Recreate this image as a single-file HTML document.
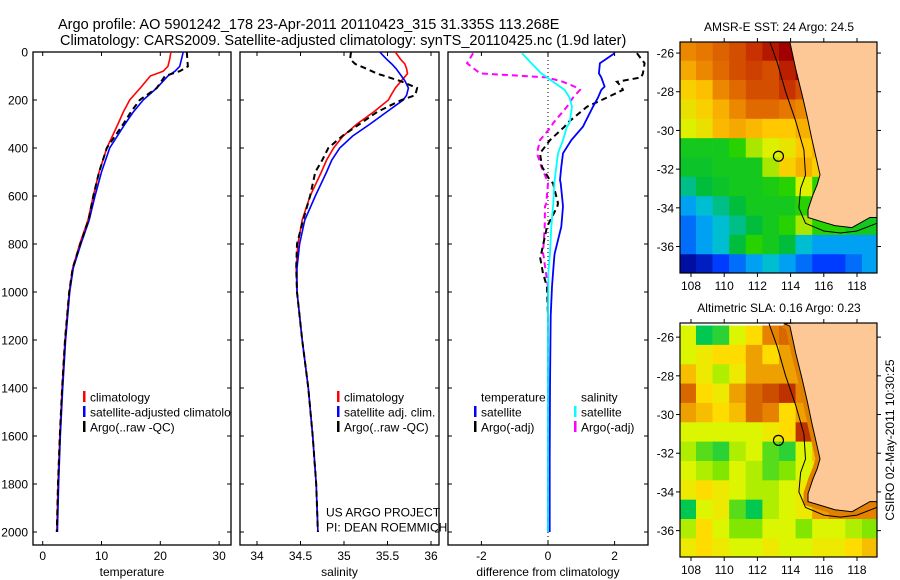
<!DOCTYPE html>
<html><head><meta charset="utf-8"><style>
body{margin:0;background:#fff;}
svg{display:block;font-family:"Liberation Sans",sans-serif;}
</style></head><body>
<svg id="fig" width="900" height="580" viewBox="0 0 900 580">
<text x="58" y="29" font-size="14.5">Argo profile: AO 5901242_178 23-Apr-2011 20110423_315 31.335S 113.268E</text>
<text x="60" y="45" font-size="14.5">Climatology: CARS2009. Satellite-adjusted climatology: synTS_20110425.nc (1.9d later)</text>
<g id="plots"></g>
</svg>
<script>
// ---------- profile data ----------
const tDepth = [0,30,60,80,100,150,200,250,300,400,500,600,700,800,900,1000,1200,1400,1600,1800,2000];
const tClim  = [21.8,21.6,21.3,20.5,18.3,16.6,14.8,13.7,12.8,10.9,9.6,8.6,7.7,6.3,5.1,4.5,3.8,3.3,2.9,2.6,2.4];
const tSat   = [23.9,23.6,23.3,22.5,21.3,19.4,17.1,15.4,14.0,11.4,10.0,8.9,7.9,6.5,5.2,4.6,3.9,3.4,3.0,2.7,2.5];
const tArgo  = [24.5,24.6,24.7,23.3,20.8,19.4,16.5,15.0,13.7,10.9,9.6,8.6,7.8,6.4,5.1,4.5,3.8,3.3,2.9,2.6,2.4];
const sDepth = [0,30,50,70,90,120,150,180,200,250,300,350,400,450,500,600,700,800,900,1000,1200,1400,1600,1800,2000];
const sClim  = [35.59,35.65,35.70,35.72,35.73,35.66,35.59,35.54,35.51,35.34,35.15,34.99,34.88,34.80,34.74,34.61,34.52,34.47,34.45,34.46,34.52,34.59,34.64,34.68,34.70];
const sSat   = [35.41,35.49,35.55,35.60,35.64,35.70,35.74,35.72,35.68,35.49,35.30,35.10,34.95,34.86,34.80,34.67,34.55,34.49,34.46,34.46,34.52,34.59,34.64,34.68,34.70];
const sArgo  = [35.08,35.07,35.13,35.26,35.38,35.64,35.84,35.82,35.66,35.38,35.18,34.98,34.82,34.75,34.67,34.61,34.53,34.46,34.45,34.46,34.52,34.59,34.64,34.68,34.70];
const dDepth = [5,47,89,106,124,144,158,190,228,297,311,367,422,478,533,547,630,644,728,839,853,922,978,1100,1400,1700,2000];
const dTSat  = [2.0,1.56,1.53,1.6,1.65,1.7,1.6,1.5,1.35,1.1,1.05,0.7,0.45,0.4,0.36,0.38,0.44,0.45,0.4,0.2,0.19,0.15,0.12,0.08,0.06,0.05,0.05];
const dTArgo = [2.67,2.9,2.85,2.8,2.07,2.2,2.25,1.77,1.17,0.57,0.5,0.06,-0.24,-0.18,0.05,0.15,0.3,0.28,-0.03,-0.2,-0.24,-0.15,-0.03,0.0,0.0,0.0,0.0];
const dSSat  = [-0.78,-0.5,-0.2,-0.03,0.15,0.36,0.5,0.65,0.72,0.65,0.57,0.45,0.3,0.25,0.2,0.19,0.16,0.15,0.1,0.06,0.05,0.01,0.01,0.0,0.0,0.0,0.0];
const dSArgo = [-2.25,-2.43,-2.04,-0.03,0.45,0.8,0.96,0.75,0.57,0.15,0.1,-0.24,-0.33,-0.2,-0.03,0.0,-0.05,-0.09,-0.1,-0.15,-0.13,-0.06,0.0,0.0,0.0,0.0,0.0];
const depthTicks = [0,200,400,600,800,1000,1200,1400,1600,1800,2000];
const tTicks = [0,10,20,30];
const sTicks = [34,34.5,35,35.5,36];
const sTickLabels = ["34","34.5","35","35.5","36"];
const dTicks = [-2,0,2];
// ---------- map data ----------
const sstGrid = [
[0.80,0.82,0.85,0.88,0.92,0.96,1.00,1.00,1.00,0.9,0.9,0.9],
[0.76,0.80,0.84,0.88,0.90,0.88,0.95,1.00,0.95,0.9,0.9,0.9],
[0.70,0.73,0.80,0.84,0.88,0.88,0.92,0.88,0.85,0.9,0.9,0.9],
[0.66,0.70,0.75,0.80,0.84,0.84,0.82,0.80,0.80,0.8,0.8,0.8],
[0.62,0.66,0.74,0.76,0.74,0.72,0.72,0.75,0.78,0.8,0.8,0.8],
[0.50,0.50,0.50,0.55,0.60,0.62,0.65,0.72,0.75,0.7,0.7,0.7],
[0.48,0.48,0.50,0.50,0.50,0.60,0.70,0.75,0.70,0.62,0.6,0.6],
[0.40,0.45,0.48,0.50,0.50,0.52,0.55,0.62,0.55,0.6,0.6,0.6],
[0.30,0.35,0.40,0.45,0.50,0.50,0.50,0.55,0.60,0.55,0.55,0.55],
[0.25,0.30,0.35,0.40,0.45,0.50,0.55,0.60,0.55,0.55,0.50,0.50],
[0.25,0.30,0.35,0.45,0.55,0.50,0.45,0.35,0.30,0.30,0.30,0.30],
[0.05,0.10,0.20,0.25,0.30,0.35,0.30,0.25,0.20,0.20,0.25,0.30]];
const slaGrid = [
[0.50,0.25,0.30,0.50,0.60,0.75,0.80,0.80,0.8,0.8,0.8,0.8],
[0.50,0.55,0.60,0.60,0.70,0.60,0.70,0.75,0.75,0.8,0.8,0.8],
[0.65,0.55,0.45,0.55,0.70,0.70,0.70,0.70,0.75,0.8,0.8,0.8],
[0.80,0.60,0.55,0.70,0.80,0.85,0.90,0.75,0.75,0.8,0.8,0.8],
[0.70,0.65,0.60,0.65,0.80,0.75,0.60,0.70,0.75,0.8,0.8,0.8],
[0.50,0.50,0.50,0.50,0.50,0.55,0.60,0.90,0.80,0.8,0.8,0.8],
[0.45,0.35,0.30,0.45,0.50,0.35,0.30,0.50,0.65,0.7,0.7,0.7],
[0.50,0.45,0.40,0.50,0.45,0.35,0.40,0.50,0.60,0.7,0.7,0.7],
[0.55,0.60,0.55,0.50,0.45,0.45,0.50,0.55,0.70,0.7,0.7,0.7],
[0.25,0.50,0.55,0.35,0.25,0.45,0.50,0.55,0.70,0.75,0.75,0.75],
[0.45,0.60,0.50,0.40,0.40,0.50,0.50,0.40,0.50,0.50,0.45,0.40],
[0.55,0.60,0.55,0.50,0.50,0.55,0.50,0.50,0.55,0.55,0.60,0.65]];
const coastLon = [113.6,113.96,114.3,114.69,115.0,115.29,115.77,115.6,115.35,115.05,115.05,116.0,116.67,117.7,118.78,119.2];
const coastLat = [-25.3,-25.43,-26.8,-28.16,-29.3,-30.48,-32.29,-32.8,-33.32,-34.09,-34.5,-34.75,-34.92,-35.02,-34.5,-34.5];
const isoLon = [112.7,113.2,113.7,114.3,114.8,114.9,114.6,114.5,114.9,116.0,117.0,118.0,119.2];
const isoLat = [-25.3,-26.5,-28.0,-29.5,-31.0,-32.3,-33.0,-34.0,-34.8,-35.2,-35.3,-35.2,-34.8];
const floatLon = 113.268, floatLat = -31.335;

const NS = "http://www.w3.org/2000/svg";
const root = document.getElementById('plots');
function mk(tag, attrs, parent){ const e=document.createElementNS(NS,tag); for(const k in attrs) e.setAttribute(k,attrs[k]); (parent||root).appendChild(e); return e; }

const yD = d => 52 + d*0.24;

function panel(name, x0, x1, xs, ticks, labels, xlabel, yLabels){
  const g = mk('g',{});
  
  
  const r = mk('rect',{x:x0,y:52,width:x1-x0,height:493,fill:'none',stroke:'#000','stroke-width':1.3},g);
  
  
  depthTicks.forEach(d=>{
    const y=yD(d);
    mk('line',{x1:x0,x2:x0+4,y1:y,y2:y,stroke:'#000'},g);
    mk('line',{x1:x1-4,x2:x1,y1:y,y2:y,stroke:'#000'},g);
    if(yLabels){
      const t=mk('text',{x:x0-5,y:y+4.5,'font-size':12,'text-anchor':'end'},g);
      t.textContent=d;
      
      
    }
  });
  ticks.forEach((v,i)=>{
    const x=xs(v);
    mk('line',{x1:x,x2:x,y1:52,y2:56,stroke:'#000'},g);
    mk('line',{x1:x,x2:x,y1:541,y2:545,stroke:'#000'},g);
    const t=mk('text',{x:x,y:560,'font-size':12,'text-anchor':'middle'},g);
    t.textContent=labels[i];
    
    
  });
  const xl=mk('text',{x:(x0+x1)/2,y:576,'font-size':12,'text-anchor':'middle'},g);
  xl.textContent=xlabel;
  
  
  return g;
}
function line(g, xs, vals, depths, color, dash, name, w, clip){
  const pts = vals.map((v,i)=>xs(v).toFixed(1)+','+yD(depths[i]).toFixed(1)).join(' ');
  const p = mk('polyline',{points:pts,fill:'none',stroke:color,'stroke-width':w||1.6,'stroke-dasharray':dash||'none','clip-path':clip||'none'},g);
  
  
}
function legend(g, x, y, entries){
  entries.forEach((e,i)=>{
    const yy=y+i*15;
    if(e[1]) mk('rect',{x:x,y:yy-6,width:2.5,height:11,fill:e[1]},g);
    const t=mk('text',{x:x+7,y:yy+4.5,'font-size':12},g);
    t.textContent=e[0];
    
    
  });
}
const defs = mk('defs',{});
const cp = mk('clipPath',{id:'c3'},defs); mk('rect',{x:448,y:52,width:200,height:493},cp);
const cp1 = mk('clipPath',{id:'c1'},defs); mk('rect',{x:33,y:52,width:198,height:493},cp1);

const xT = v => 42.7 + v*5.88;
const g1 = panel('temperature-panel',33,231,xT,tTicks,tTicks.map(String),'temperature',true);
line(g1,xT,tClim,tDepth,'#f00',null,'temp-climatology-line');
line(g1,xT,tSat,tDepth,'#00f',null,'temp-satellite-line');
line(g1,xT,tArgo,tDepth,'#000','6,4','temp-argo-line',2);
const lg1 = mk('g',{'clip-path':'url(#c1)'},g1);
legend(lg1,83,397,[['climatology','#f00'],['satellite-adjusted climatology','#00f'],['Argo(..raw -QC)','#000']]);

const xS = v => 257 + (v-34)*87;
const g2 = panel('salinity-panel',240,439,xS,sTicks,sTickLabels,'salinity',false);
line(g2,xS,sClim,sDepth,'#f00',null,'sal-climatology-line');
line(g2,xS,sSat,sDepth,'#00f',null,'sal-satellite-line');
line(g2,xS,sArgo,sDepth,'#000','6,4','sal-argo-line',2);
legend(g2,337,397,[['climatology','#f00'],['satellite adj. clim.','#00f'],['Argo(..raw -QC)','#000']]);
legend(g2,319,512,[['US ARGO PROJECT',null],['PI: DEAN ROEMMICH',null]]);

const xDf = v => 548 + v*33.3;
const g3 = panel('difference-panel',448,648,xDf,dTicks,dTicks.map(String),'difference from climatology',false);
mk('line',{x1:548,x2:548,y1:52,y2:545,stroke:'#000','stroke-dasharray':'1,3'},g3);
line(g3,xDf,dSArgo,dDepth,'#f0f','6,4','sal-argo-diff-line',2,'url(#c3)');
line(g3,xDf,dTArgo,dDepth,'#000','6,4','temp-argo-diff-line',2,'url(#c3)');
line(g3,xDf,dTSat,dDepth,'#00f',null,'temp-satellite-diff-line',1.8,'url(#c3)');
line(g3,xDf,dSSat,dDepth,'#0ff',null,'sal-satellite-diff-line',1.8,'url(#c3)');
legend(g3,474,397,[['temperature',null],['satellite','#00f'],['Argo(-adj)','#000']]);
legend(g3,574,397,[['salinity',null],['satellite','#0ff'],['Argo(-adj)','#f0f']]);

const cmapJet = [[0,[0,0,130]],[0.2,[0,60,255]],[0.33,[0,190,240]],[0.45,[0,190,60]],[0.55,[40,210,0]],[0.62,[220,240,0]],[0.72,[255,200,0]],[0.82,[230,120,0]],[0.92,[200,50,0]],[1,[160,0,0]]];
const cmapSla = [[0,[0,160,140]],[0.25,[0,200,80]],[0.4,[130,230,0]],[0.5,[220,245,0]],[0.6,[255,220,0]],[0.75,[230,130,0]],[0.9,[190,50,0]],[1,[150,0,0]]];
function cmap(m,v){ for(let i=1;i<m.length;i++){ if(v<=m[i][0]){ const a=m[i-1],b=m[i],f=(v-a[0])/(b[0]-a[0]); return 'rgb('+a[1].map((c,k)=>Math.round(c+(b[1][k]-c)*f)).join(',')+')'; } } return 'rgb('+m[m.length-1][1].join(',')+')'; }
const lonX = lon => 691 + (lon-108)*16.6;
function drawMap(name, top, bottom, latTop, grid, cm, title, coastBand){
  const latY = lat => top + (latTop-lat)*19.35;
  const g = mk('g',{});
  
  
  const cid='clip-'+name;
  const c=mk('clipPath',{id:cid},defs); mk('rect',{x:680,y:top,width:197,height:bottom-top},c);
  const cells = mk('g',{'clip-path':'url(#'+cid+')'},g);
  grid.forEach((row,i)=>row.forEach((v,j)=>{
    const x=lonX(107.3+j), y=latY(-25.4-i);
    mk('rect',{x:x,y:y,width:16.9,height:19.7,fill:cmap(cm,v)},cells);
  }));
  const pts = coastLon.map((lo,i)=>lonX(lo).toFixed(1)+','+latY(coastLat[i]).toFixed(1));
  if(coastBand){
    mk('polyline',{points:pts.join(' '),fill:'none',stroke:coastBand,'stroke-width':9},cells);
  }
  const land = mk('polygon',{points:pts.join(' ')+' 880,'+(bottom+5)+' 880,'+(top-5),fill:'#fdc896',stroke:'#000','stroke-width':1},cells);
  
  
  const iso = mk('polyline',{points:isoLon.map((lo,i)=>lonX(lo).toFixed(1)+','+latY(isoLat[i]).toFixed(1)).join(' '),fill:'none',stroke:'#000','stroke-width':1},cells);
  
  
  const fl = mk('circle',{cx:lonX(floatLon),cy:latY(floatLat),r:5,fill:'none',stroke:'#000','stroke-width':1.2},g);
  
  
  mk('rect',{x:680,y:top,width:197,height:bottom-top,fill:'none',stroke:'#000','stroke-width':1.2},g);
  [108,110,112,114,116,118].forEach(lo=>{
    const x=lonX(lo);
    mk('line',{x1:x,x2:x,y1:top-4,y2:top,stroke:'#000'},g);
    mk('line',{x1:x,x2:x,y1:bottom,y2:bottom+4,stroke:'#000'},g);
    const t=mk('text',{x:x,y:bottom+17,'font-size':12,'text-anchor':'middle'},g);
    t.textContent=lo;
    
    
  });
  [-26,-28,-30,-32,-34,-36].forEach(la=>{
    const y=latY(la);
    mk('line',{x1:676,x2:680,y1:y,y2:y,stroke:'#000'},g);
    mk('line',{x1:877,x2:881,y1:y,y2:y,stroke:'#000'},g);
    const t=mk('text',{x:674,y:y+4.5,'font-size':12,'text-anchor':'end'},g);
    t.textContent=la;
    
    
  });
  const tt=mk('text',{x:779,y:top-11,'font-size':12,'text-anchor':'middle'},g);
  tt.textContent=title;
  
  
}
drawMap('sst-map',42,273,-25.43,sstGrid,cmapJet,'AMSR-E SST: 24 Argo: 24.5',null);
drawMap('sla-map',323,557,-25.27,slaGrid,cmapSla,'Altimetric SLA: 0.16 Argo: 0.23','#e08000');
const st=mk('text',{x:894,y:440,'font-size':12,'text-anchor':'middle',transform:'rotate(-90 894 440)'});
st.textContent='CSIRO 02-May-2011 10:30:25';


</script>
</body></html>
